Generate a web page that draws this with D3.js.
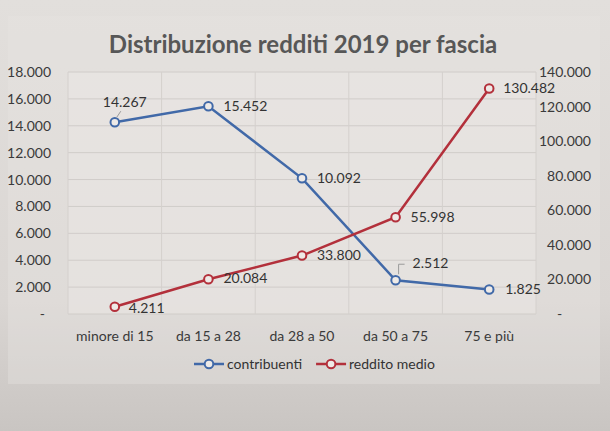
<!DOCTYPE html>
<html><head><meta charset="utf-8">
<script src="https://cdn.jsdelivr.net/npm/d3@7"></script>
<style>
html,body{margin:0;padding:0;}
svg{display:block;font-family:Lato,"Open Sans",sans-serif;}
</style></head>
<body><svg id="c" width="610" height="431"></svg>
<script>
const categories = ["minore di 15","da 15 a 28","da 28 a 50","da 50 a 75","75 e più"];
const contribuenti = [14267, 15452, 10092, 2512, 1825];
const redditoMedio = [4211, 20084, 33800, 55998, 130482];
const leftTicks = [0,2000,4000,6000,8000,10000,12000,14000,16000,18000];
const rightTicks = [0,20000,40000,60000,80000,100000,120000,140000];

const loc = d3.formatLocale({decimal:",", thousands:".", grouping:[3], currency:["€",""]});
const fmt = v => v === 0 ? "-" : loc.format(",.0f")(v);

const svg = d3.select("#c");
const W = 610, H = 431;
const defs = svg.append("defs");
const g1 = defs.append("linearGradient").attr("id","bg").attr("x1",0).attr("y1",0).attr("x2",0).attr("y2",1);
g1.append("stop").attr("offset","0%").attr("stop-color","#e2dfdc");
g1.append("stop").attr("offset","70%").attr("stop-color","#dad6d3");
g1.append("stop").attr("offset","100%").attr("stop-color","#c9c5c2");
svg.append("rect").attr("width",W).attr("height",H).attr("fill","url(#bg)");
svg.append("rect").attr("x",8).attr("y",16).attr("width",592).attr("height",368).attr("fill","#e8e5e2").attr("opacity",0.35);

const m = {left:68, right:536, top:72, bottom:314};
const x = d3.scaleBand().domain(categories).range([m.left,m.right]);
const yL = d3.scaleLinear().domain([0,18000]).range([m.bottom,m.top]);
const yR = d3.scaleLinear().domain([0,140000]).range([m.bottom,m.top]);

// plot area
svg.append("rect").attr("x",m.left).attr("y",m.top).attr("width",m.right-m.left).attr("height",m.bottom-m.top)
  .attr("fill","#ebe8e5").attr("opacity",0.5);

// gridlines
svg.append("g").selectAll("line").data(leftTicks).join("line")
  .attr("x1",m.left).attr("x2",m.right).attr("y1",d=>yL(d)).attr("y2",d=>yL(d))
  .attr("stroke","#d0ccc9").attr("stroke-width",1);
svg.append("g").selectAll("line").data(categories.concat([null])).join("line")
  .attr("x1",(d,i)=>m.left+i*x.bandwidth()).attr("x2",(d,i)=>m.left+i*x.bandwidth())
  .attr("y1",m.top).attr("y2",m.bottom).attr("stroke","#d4d0cd").attr("stroke-width",1);

// axes
const axL = d3.axisLeft(yL).tickValues(leftTicks).tickFormat(fmt).tickSize(0).tickPadding(17);
const axR = d3.axisRight(yR).tickValues(rightTicks).tickFormat(fmt).tickSize(0).tickPadding(14);
const axB = d3.axisBottom(x).tickSize(0).tickPadding(17);
const gl = svg.append("g").attr("transform",`translate(${m.left},0)`).call(axL);
const gr = svg.append("g").attr("transform",`translate(${m.right},0)`).call(axR);
const gb = svg.append("g").attr("transform",`translate(0,${m.bottom})`).call(axB);
[gl,gr,gb].forEach(a=>{a.select(".domain").remove();
  a.selectAll("text").attr("font-size",14).attr("fill","#3a3a3a").attr("font-family","Lato,'Open Sans',sans-serif");});
// accounting style: dash for zero sits indented
gl.selectAll(".tick text").filter(d=>d===0).attr("x",-23);
gr.selectAll(".tick text").attr("x",55).attr("text-anchor","end");
gr.selectAll(".tick text").filter(d=>d===0).attr("x",21).attr("text-anchor","start");

// title
svg.append("text").attr("x",303).attr("y",53).attr("text-anchor","middle")
  .attr("font-size",24).attr("font-weight","bold").attr("fill","#575757")
  .text("Distribuzione redditi 2019 per fascia");

const cx = d => x(d) + x.bandwidth()/2;
const blue = "#4169a8", red = "#b3303b";

function series(vals, y, color){
  const line = d3.line().x((d,i)=>cx(categories[i])).y(d=>y(d));
  svg.append("path").datum(vals).attr("d",line).attr("fill","none").attr("stroke",color).attr("stroke-width",2.5);
  svg.append("g").selectAll("circle").data(vals).join("circle")
    .attr("cx",(d,i)=>cx(categories[i])).attr("cy",d=>y(d)).attr("r",4.3)
    .attr("fill","#eeeae7").attr("stroke",color).attr("stroke-width",2);
}
series(contribuenti, yL, blue);
series(redditoMedio, yR, red);

// data labels
const lblC = [[-12,-15,"start"],[15,5,"start"],[15,5,"start"],[17,-12,"start"],[16,5,"start"]];
const lblR = [[14,6,"start"],[15,4,"start"],[15,4,"start"],[15,5,"start"],[14,5,"start"]];
function labels(vals,y,offs){
  svg.append("g").selectAll("text").data(vals).join("text")
    .attr("x",(d,i)=>cx(categories[i])+offs[i][0]).attr("y",(d,i)=>y(d)+offs[i][1])
    .attr("text-anchor",(d,i)=>offs[i][2]).attr("font-size",14).attr("fill","#333")
    .text(d=>fmt(d));
}
labels(contribuenti,yL,lblC);
labels(redditoMedio,yR,lblR);
// leader lines
svg.append("path").attr("d",`M${cx(categories[0])+2},${yL(contribuenti[0])-5} L${cx(categories[0])+6},${yL(contribuenti[0])-11}`).attr("stroke","#9a9a9a").attr("fill","none");
svg.append("path").attr("d",`M${cx(categories[3])+3},${yL(contribuenti[3])-6} L${cx(categories[3])+3},${yL(contribuenti[3])-16} L${cx(categories[3])+9},${yL(contribuenti[3])-16}`).attr("stroke","#9a9a9a").attr("fill","none");

// legend
const legend = [["contribuenti",blue],["reddito medio",red]];
const lg = svg.append("g").attr("transform","translate(194,364)");
let off = 0;
legend.forEach(([name,color])=>{
  const it = lg.append("g").attr("transform",`translate(${off},0)`);
  it.append("line").attr("x1",0).attr("x2",30).attr("y1",0).attr("y2",0).attr("stroke",color).attr("stroke-width",2.5);
  it.append("circle").attr("cx",15).attr("cy",0).attr("r",4.3).attr("fill","#eeeae7").attr("stroke",color).attr("stroke-width",2);
  const t = it.append("text").attr("x",33).attr("y",5).attr("font-size",14).attr("fill","#333").text(name);
  off += 33 + t.node().getComputedTextLength() + 14;
});
</script></body></html>
